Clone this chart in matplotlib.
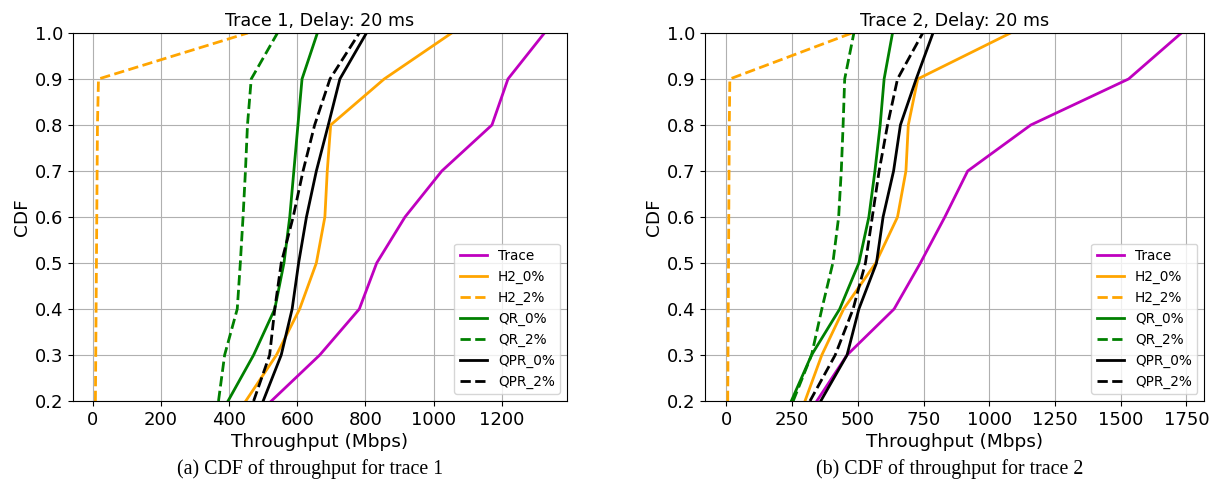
import matplotlib.pyplot as plt

cdf = [0.2, 0.3, 0.4, 0.5, 0.6, 0.7, 0.8, 0.9, 1.0]

# trace 1 throughput (Mbps) at each CDF level
t1_trace = [524, 666, 782, 833, 916, 1024, 1171, 1218, 1325]
t1_h2_0 = [449, 539, 607, 656, 681, 688, 698, 855, 1053]
t1_h2_2 = [8, 9, 10, 11, 12, 13, 14, 17, 455]
t1_qr_0 = [397, 472, 534, 561, 578, 590, 602, 614, 659]
t1_qr_2 = [369, 387, 424, 433, 441, 448, 454, 465, 542]
t1_qpr_0 = [500, 553, 585, 604, 627, 656, 691, 725, 803]
t1_qpr_2 = [472, 519, 534, 553, 588, 617, 651, 696, 782]

# trace 2
t2_trace = [344, 459, 638, 738, 831, 918, 1158, 1530, 1731]
t2_h2_0 = [299, 363, 446, 568, 651, 683, 692, 728, 1081]
t2_h2_2 = [5, 6, 7, 8, 9, 10, 11, 13, 478]
t2_qr_0 = [247, 324, 431, 504, 542, 565, 585, 600, 632]
t2_qr_2 = [254, 324, 363, 405, 427, 437, 444, 450, 485]
t2_qpr_0 = [359, 459, 504, 571, 596, 636, 662, 722, 786]
t2_qpr_2 = [318, 414, 482, 529, 555, 581, 613, 651, 747]

labels = ["Trace", "H2_0%", "H2_2%", "QR_0%", "QR_2%", "QPR_0%", "QPR_2%"]
colors = ["m", "orange", "orange", "green", "green", "black", "black"]
styles = ["-", "-", "--", "-", "--", "-", "--"]

titles = ["Trace 1, Delay: 20 ms", "Trace 2, Delay: 20 ms"]
captions = ["(a) CDF of throughput for trace 1", "(b) CDF of throughput for trace 2"]

series = [
    [t1_trace, t1_h2_0, t1_h2_2, t1_qr_0, t1_qr_2, t1_qpr_0, t1_qpr_2],
    [t2_trace, t2_h2_0, t2_h2_2, t2_qr_0, t2_qr_2, t2_qpr_0, t2_qpr_2],
]

fig = plt.figure(figsize=(12.16, 4.93), dpi=100)
ax1 = fig.add_axes([0.060, 0.1866, 0.4062, 0.7465])
ax2 = fig.add_axes([0.5798, 0.1866, 0.4104, 0.7465])

for ax, data, title in zip([ax1, ax2], series, titles):
    for vals, lab, c, ls in zip(data, labels, colors, styles):
        ax.plot(vals, cdf, color=c, linestyle=ls, linewidth=2, label=lab)
    ax.set_ylim(0.2, 1.0)
    ax.set_yticks(cdf)
    ax.grid(True)
    ax.set_title(title, fontsize=12.6, pad=5)
    ax.set_xlabel("Throughput (Mbps)", fontsize=13.3, labelpad=3)
    ax.set_ylabel("CDF", fontsize=13.3, labelpad=3)
    ax.tick_params(labelsize=13)
    ax.legend(loc="lower right", fontsize=9.8)

fig.text(0.255, 0.049, captions[0], ha="center", va="center",
         family="Liberation Serif", fontsize=14.3)
fig.text(0.781, 0.049, captions[1], ha="center", va="center",
         family="Liberation Serif", fontsize=14.3)

fig.savefig("out.png", dpi=100)
